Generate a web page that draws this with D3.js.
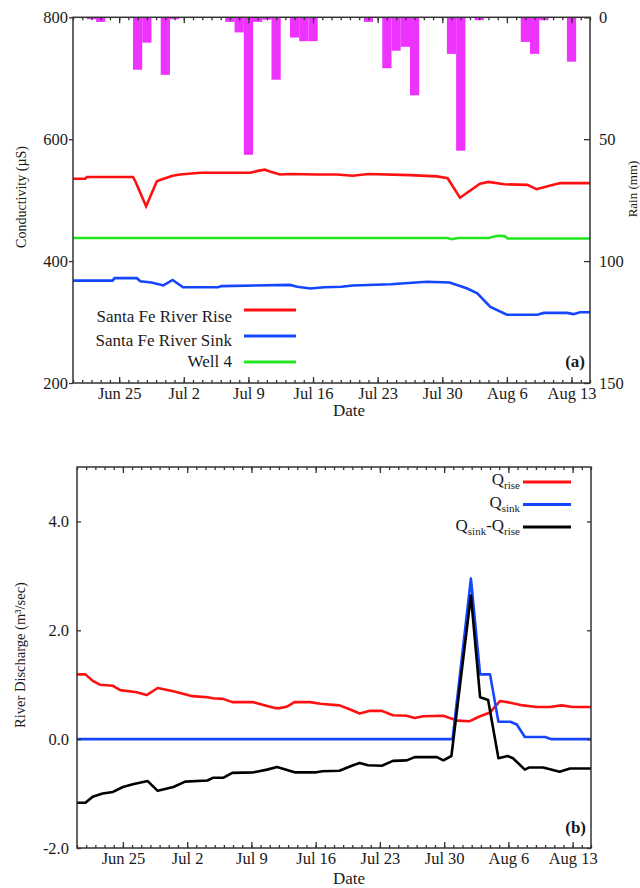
<!DOCTYPE html>
<html>
<head>
<meta charset="utf-8">
<title>Conductivity and river discharge</title>
<script src="https://d3js.org/d3.v7.min.js"></script>
<style>
  body { margin: 0; background: #fff; }
  svg text { font-family: "Liberation Serif", "Times New Roman", serif; fill: #1a1a1a; }
  .axis path { display: none; }
  .axis line { stroke: #333; stroke-width: 1.3; }
  .axis text { font-size: 16.5px; font-family: "Liberation Serif", "Times New Roman", serif; }
</style>
</head>
<body>
<div id="chart"></div>
<script>
const parseT = d3.timeParse("%m-%d %H");

// time axis
const dateRange = ["06-20 00", "08-15 00"];
const weekTicks = ["06-25 00", "07-02 00", "07-09 00", "07-16 00", "07-23 00", "07-30 00", "08-06 00", "08-13 00"];
const weekLabels = ["Jun 25", "Jul 2", "Jul 9", "Jul 16", "Jul 23", "Jul 30", "Aug 6", "Aug 13"];

const condTicks = [200, 400, 600, 800];
const rainTicks = [0, 50, 100, 150];
const flowTicks = [-2, 0, 2, 4];

// daily rain (mm)
const rainDays = ["06-22", "06-23", "06-27", "06-28", "06-30", "07-01", "07-07", "07-08", "07-09", "07-10",
  "07-11", "07-12", "07-14", "07-15", "07-16", "07-22", "07-24", "07-25", "07-26", "07-27",
  "07-31", "08-01", "08-03", "08-08", "08-09", "08-10", "08-13"];
const rainMm = [0.8, 1.9, 21.5, 10.4, 23.6, 0.8, 1.9, 6.2, 56.4, 1.9,
  1.0, 25.6, 8.3, 9.8, 9.8, 1.9, 20.9, 13.7, 12.1, 32.0,
  15.0, 54.7, 1.2, 10.1, 15.0, 1.2, 18.2];

// conductivity (uS)
const riseCond = [
  ["06-20 00", 535], ["06-21 08", 535], ["06-21 12", 538], ["06-26 12", 538], ["06-26 18", 531],
  ["06-27 22", 490], ["06-29 02", 531], ["06-29 14", 534], ["06-30 19", 540], ["07-01 14", 542],
  ["07-03 19", 545], ["07-09 05", 545], ["07-10 00", 548], ["07-10 19", 550], ["07-11 12", 546],
  ["07-12 10", 542], ["07-13 12", 543], ["07-16 10", 542], ["07-18 14", 542], ["07-20 07", 540],
  ["07-22 00", 543], ["07-26 12", 541], ["07-29 10", 539], ["07-30 14", 536], ["07-31 22", 504],
  ["08-03 02", 527], ["08-04 00", 530], ["08-05 17", 526], ["08-08 05", 525], ["08-09 05", 518],
  ["08-10 17", 524], ["08-11 19", 528], ["08-15 00", 528]
];
const sinkCond = [
  ["06-20 00", 368], ["06-24 07", 368], ["06-24 12", 372], ["06-26 22", 372], ["06-27 07", 367],
  ["06-28 12", 365], ["06-29 19", 360], ["06-30 19", 369], ["07-01 22", 357], ["07-05 17", 357],
  ["07-06 02", 359], ["07-13 12", 361], ["07-14 07", 358], ["07-15 17", 355], ["07-17 05", 357],
  ["07-19 02", 358], ["07-20 07", 360], ["07-24 10", 362], ["07-28 07", 366], ["07-30 19", 365],
  ["08-01 17", 355], ["08-02 19", 347], ["08-04 05", 325], ["08-06 00", 312], ["08-09 07", 312],
  ["08-10 00", 315], ["08-12 12", 315], ["08-13 05", 313], ["08-13 22", 316], ["08-15 00", 316]
];
const wellCond = [
  ["06-20 00", 438], ["07-30 14", 438], ["07-31 00", 436], ["07-31 18", 438], ["08-04 00", 438],
  ["08-05 00", 441.5], ["08-05 18", 441], ["08-06 02", 437], ["08-15 00", 437]
];

// discharge (m3/sec)
const qRise = [
  ["06-20 00", 1.19], ["06-20 22", 1.19], ["06-21 17", 1.07], ["06-22 12", 1.00], ["06-23 22", 0.98],
  ["06-24 17", 0.90], ["06-26 12", 0.86], ["06-27 14", 0.81], ["06-28 19", 0.94], ["06-30 12", 0.88],
  ["07-02 14", 0.79], ["07-04 05", 0.77], ["07-04 19", 0.75], ["07-05 22", 0.74], ["07-06 22", 0.68],
  ["07-09 05", 0.68], ["07-10 17", 0.61], ["07-11 14", 0.57], ["07-12 02", 0.57], ["07-12 22", 0.60],
  ["07-13 17", 0.68], ["07-15 10", 0.68], ["07-16 12", 0.65], ["07-18 14", 0.62], ["07-19 17", 0.55],
  ["07-20 19", 0.47], ["07-21 22", 0.52], ["07-23 05", 0.52], ["07-24 10", 0.44], ["07-25 22", 0.43],
  ["07-26 19", 0.39], ["07-27 17", 0.42], ["07-29 22", 0.43], ["07-31 10", 0.34], ["08-01 19", 0.33],
  ["08-02 22", 0.42], ["08-04 00", 0.49], ["08-05 02", 0.70], ["08-06 05", 0.67], ["08-07 14", 0.62],
  ["08-09 02", 0.59], ["08-10 12", 0.59], ["08-11 19", 0.62], ["08-13 00", 0.59], ["08-15 00", 0.59]
];
const qSink = [
  ["06-20 00", 0], ["07-30 22", 0], ["08-01 22", 2.95], ["08-02 22", 1.19], ["08-04 00", 1.19],
  ["08-04 22", 0.32], ["08-06 05", 0.32], ["08-06 22", 0.27], ["08-07 19", 0.04], ["08-10 00", 0.04],
  ["08-10 17", 0], ["08-15 00", 0]
];
const qDiff = [
  ["06-20 00", -1.17], ["06-20 22", -1.17], ["06-21 17", -1.06], ["06-22 19", -1.00], ["06-23 22", -0.97],
  ["06-25 00", -0.88], ["06-26 02", -0.83], ["06-27 17", -0.77], ["06-28 19", -0.95], ["06-30 12", -0.88],
  ["07-01 19", -0.78], ["07-04 05", -0.76], ["07-04 19", -0.71], ["07-05 22", -0.71], ["07-06 22", -0.62],
  ["07-09 05", -0.61], ["07-10 17", -0.56], ["07-11 19", -0.51], ["07-13 17", -0.61], ["07-16 02", -0.61],
  ["07-16 17", -0.59], ["07-18 14", -0.58], ["07-20 02", -0.48], ["07-20 19", -0.44], ["07-21 17", -0.48],
  ["07-23 05", -0.49], ["07-24 10", -0.40], ["07-25 22", -0.39], ["07-26 19", -0.33], ["07-29 05", -0.33],
  ["07-29 22", -0.39], ["07-30 19", -0.31], ["08-01 22", 2.64], ["08-02 22", 0.77], ["08-03 19", 0.72],
  ["08-04 22", -0.35], ["08-05 22", -0.31], ["08-06 12", -0.35], ["08-07 19", -0.56], ["08-08 07", -0.52],
  ["08-09 19", -0.52], ["08-11 14", -0.60], ["08-12 17", -0.54], ["08-15 00", -0.54]
];

const condNames = ["Santa Fe River Rise", "Santa Fe River Sink", "Well 4"];

const RED = "#ff1010", BLUE = "#1546ff", GREEN = "#22e622", PINK = "#ee33ff";

const svg = d3.select("#chart").append("svg")
    .attr("width", 640)
    .attr("height", 888);

function timeAxes(x, p) {
    let days = d3.timeDay.range(x.domain()[0], d3.timeDay.offset(x.domain()[1], 1));
    let weeks = weekTicks.map(parseT);
    svg.append("g").attr("class", "axis").attr("transform", "translate(0," + p.bottom + ")")
        .call(d3.axisBottom(x).tickValues(days).tickSize(-3).tickFormat(""));
    svg.append("g").attr("class", "axis").attr("transform", "translate(0," + p.bottom + ")")
        .call(d3.axisBottom(x).tickValues(weeks).tickSize(-6).tickPadding(4)
            .tickFormat((d, i) => weekLabels[i]));
    svg.append("g").attr("class", "axis").attr("transform", "translate(0," + p.top + ")")
        .call(d3.axisTop(x).tickValues(days).tickSize(-3).tickFormat(""));
    svg.append("g").attr("class", "axis").attr("transform", "translate(0," + p.top + ")")
        .call(d3.axisTop(x).tickValues(weeks).tickSize(-6).tickFormat(""));
}

function frame(p) {
    svg.append("rect")
        .attr("x", p.left).attr("y", p.top)
        .attr("width", p.right - p.left).attr("height", p.bottom - p.top)
        .attr("fill", "none").attr("stroke", "#333").attr("stroke-width", 1.5);
}

function clip(id, p) {
    svg.append("clipPath").attr("id", id).append("rect")
        .attr("x", p.left).attr("y", p.top)
        .attr("width", p.right - p.left).attr("height", p.bottom - p.top);
}

// ---------- panel (a) ----------
const pa = {left: 73, right: 590, top: 17.3, bottom: 383};
const xa = d3.scaleTime().domain(dateRange.map(parseT)).range([pa.left, pa.right]);
const yCond = d3.scaleLinear().domain([200, 800]).range([pa.bottom, pa.top]);
const yRain = d3.scaleLinear().domain([0, 150]).range([pa.top, pa.bottom]);
clip("clipA", pa);

let rain = rainDays.map((d, i) => ({t: parseT(d + " 00"), v: rainMm[i]}));
svg.append("g").attr("clip-path", "url(#clipA)")
    .selectAll("rect").data(rain).join("rect")
    .attr("x", d => xa(d3.timeHour.offset(d.t, -12)))
    .attr("width", d => xa(d3.timeHour.offset(d.t, 12)) - xa(d3.timeHour.offset(d.t, -12)))
    .attr("y", yRain(0))
    .attr("height", d => yRain(d.v) - yRain(0))
    .attr("fill", PINK);

let lineA = d3.line().x(d => xa(parseT(d[0]))).y(d => yCond(d[1]));
[[riseCond, RED], [sinkCond, BLUE], [wellCond, GREEN]].forEach(function(s) {
    svg.append("path").attr("clip-path", "url(#clipA)")
        .attr("d", lineA(s[0]))
        .attr("fill", "none").attr("stroke", s[1]).attr("stroke-width", 2.6);
});

timeAxes(xa, pa);
svg.append("g").attr("class", "axis").attr("transform", "translate(" + pa.left + ",0)")
    .call(d3.axisLeft(yCond).tickValues(condTicks).tickSize(4).tickPadding(1));
svg.append("g").attr("class", "axis").attr("transform", "translate(" + pa.right + ",0)")
    .call(d3.axisRight(yRain).tickValues(rainTicks).tickSize(-6).tickPadding(9));
frame(pa);

// legend (a)
const legLineY = [310, 336, 362], legTextY = [321.5, 345.5, 366.5];
[RED, BLUE, GREEN].forEach(function(c, i) {
    svg.append("line").attr("x1", 244).attr("x2", 296)
        .attr("y1", legLineY[i]).attr("y2", legLineY[i])
        .attr("stroke", c).attr("stroke-width", 3);
    svg.append("text").attr("x", 232).attr("y", legTextY[i])
        .attr("text-anchor", "end").attr("font-size", "17px")
        .text(condNames[i]);
});
svg.append("text").attr("x", 585).attr("y", 367).attr("text-anchor", "end")
    .attr("font-size", "17px").attr("font-weight", "bold").text("(a)");

svg.append("text")
    .attr("transform", "translate(26,197) rotate(-90)")
    .attr("text-anchor", "middle").attr("font-size", "14px")
    .text("Conductivity (µS)");
svg.append("text")
    .attr("transform", "translate(637,189) rotate(-90)")
    .attr("text-anchor", "middle").attr("font-size", "13px")
    .text("Rain (mm)");
svg.append("text").attr("x", 349).attr("y", 416)
    .attr("text-anchor", "middle").attr("font-size", "17px").text("Date");

// ---------- panel (b) ----------
const pb = {left: 77, right: 591, top: 467, bottom: 848};
const xb = d3.scaleTime().domain(dateRange.map(parseT)).range([pb.left, pb.right]);
const yQ = d3.scaleLinear().domain([-2, 5]).range([pb.bottom, pb.top]);
clip("clipB", pb);

let lineB = d3.line().x(d => xb(parseT(d[0]))).y(d => yQ(d[1]));
[[qRise, RED], [qSink, BLUE], [qDiff, "#000"]].forEach(function(s) {
    svg.append("path").attr("clip-path", "url(#clipB)")
        .attr("d", lineB(s[0]))
        .attr("fill", "none").attr("stroke", s[1]).attr("stroke-width", 2.6)
        .attr("stroke-linejoin", "round");
});

timeAxes(xb, pb);
svg.append("g").attr("class", "axis").attr("transform", "translate(" + pb.left + ",0)")
    .call(d3.axisLeft(yQ).tickValues(flowTicks).tickSize(-4).tickPadding(8)
        .tickFormat(d => d.toFixed(1)));
svg.append("g").attr("class", "axis").attr("transform", "translate(" + pb.right + ",0)")
    .call(d3.axisRight(yQ).tickValues(flowTicks).tickSize(-4).tickFormat(""));
frame(pb);

// legend (b)
const qLineY = [482, 504.5, 527], qTextY = [485, 507.5, 530.5];
const qParts = [
    [["Q", 0], ["rise", 1]],
    [["Q", 0], ["sink", 1]],
    [["Q", 0], ["sink", 1], ["-Q", 0], ["rise", 1]]
];
[RED, BLUE, "#000"].forEach(function(c, i) {
    svg.append("line").attr("x1", 523).attr("x2", 571)
        .attr("y1", qLineY[i]).attr("y2", qLineY[i])
        .attr("stroke", c).attr("stroke-width", 3);
    let t = svg.append("text").attr("x", 520).attr("y", qTextY[i])
        .attr("text-anchor", "end").attr("font-size", "17px");
    let low = 0;
    qParts[i].forEach(function(p) {
        let shift = p[1] ? 4 - low : -low;
        low = p[1] ? 4 : 0;
        t.append("tspan").attr("dy", shift)
            .attr("font-size", p[1] ? "11px" : "17px")
            .text(p[0]);
    });
});
svg.append("text").attr("x", 586).attr("y", 833).attr("text-anchor", "end")
    .attr("font-size", "17px").attr("font-weight", "bold").text("(b)");

svg.append("text")
    .attr("transform", "translate(25,655) rotate(-90)")
    .attr("text-anchor", "middle").attr("font-size", "14.5px")
    .text("River Discharge (m³/sec)");
svg.append("text").attr("x", 349).attr("y", 884)
    .attr("text-anchor", "middle").attr("font-size", "17px").text("Date");
</script>
</body>
</html>
